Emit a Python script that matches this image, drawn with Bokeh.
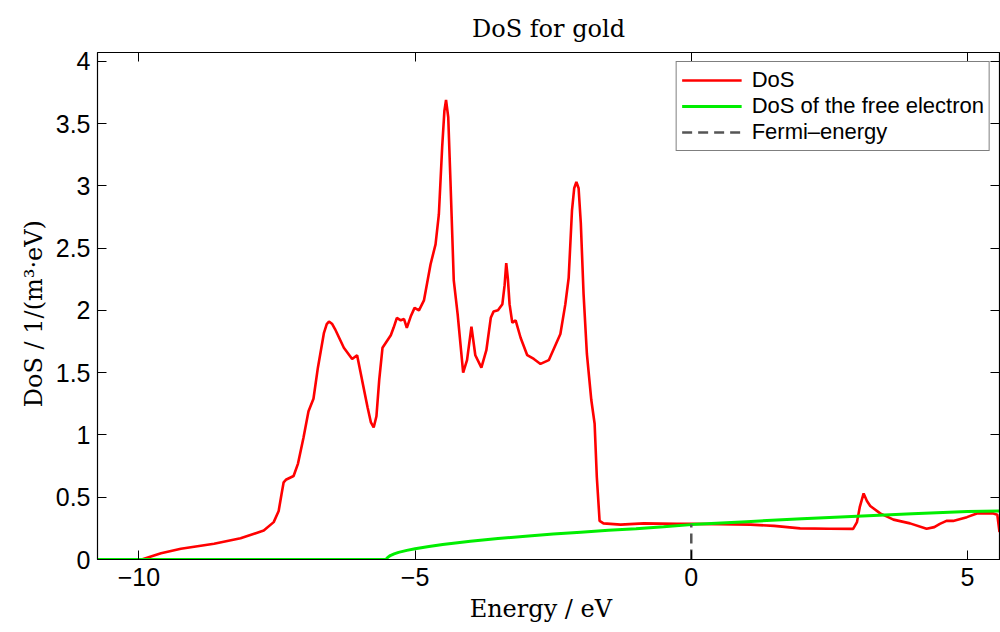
from bokeh.plotting import figure
from bokeh.models import (Range1d, FixedTicker, LinearAxis, CustomJSTickFormatter,
                          Legend, LegendItem)
from bokeh.embed import file_html
from bokeh.resources import INLINE

# --- data ---
energy_dos = [-9.95, -9.6, -9.24, -8.64, -8.16, -7.74, -7.56, -7.47, -7.42, -7.38,
              -7.34, -7.20, -7.12, -7.02, -6.93, -6.84, -6.76, -6.65, -6.60, -6.56,
              -6.50, -6.45, -6.29, -6.14, -6.05, -5.96, -5.86, -5.80, -5.75, -5.70,
              -5.65, -5.59, -5.44, -5.39, -5.33, -5.26, -5.20, -5.15, -5.08, -5.01,
              -4.93, -4.84, -4.72, -4.63, -4.57, -4.51, -4.47, -4.44, -4.40, -4.36,
              -4.30, -4.23, -4.13, -4.06, -3.98, -3.91, -3.80, -3.71, -3.63, -3.58,
              -3.50, -3.42, -3.38, -3.35, -3.32, -3.29, -3.24, -3.18, -3.09, -2.97,
              -2.85, -2.73, -2.58, -2.46, -2.37, -2.28, -2.22, -2.16, -2.12, -2.08,
              -2.04, -2.00, -1.95, -1.89, -1.81, -1.75, -1.71, -1.66, -1.59, -1.28,
              -0.86, -0.26, 0.0, 0.5, 1.07, 1.5, 1.97, 2.5, 2.93, 3.0,
              3.05, 3.12, 3.18, 3.24, 3.42, 3.66, 3.96, 4.26, 4.40, 4.50,
              4.62, 4.74, 4.99, 5.17, 5.47, 5.54, 5.58]
dos = [0.0, 0.05, 0.086, 0.126, 0.17, 0.233, 0.30, 0.39, 0.52, 0.62,
       0.64, 0.67, 0.77, 0.98, 1.19, 1.29, 1.54, 1.82, 1.89, 1.91,
       1.89, 1.85, 1.70, 1.61, 1.64, 1.44, 1.22, 1.10, 1.06, 1.15,
       1.44, 1.70, 1.80, 1.86, 1.94, 1.92, 1.93, 1.86, 1.95, 2.02,
       2.00, 2.08, 2.37, 2.53, 2.77, 3.31, 3.60, 3.69, 3.55, 3.04,
       2.24, 1.97, 1.50, 1.60, 1.87, 1.64, 1.54, 1.68, 1.94, 1.99,
       2.00, 2.05, 2.20, 2.38, 2.25, 2.05, 1.90, 1.92, 1.78, 1.64,
       1.61, 1.57, 1.60, 1.72, 1.81, 2.05, 2.26, 2.80, 2.98, 3.03,
       2.98, 2.70, 2.13, 1.65, 1.28, 1.09, 0.66, 0.31, 0.29, 0.28,
       0.29, 0.286, 0.286, 0.284, 0.28, 0.27, 0.25, 0.247, 0.246, 0.30,
       0.42, 0.53, 0.47, 0.43, 0.37, 0.32, 0.29, 0.246, 0.26, 0.286,
       0.31, 0.31, 0.34, 0.37, 0.37, 0.36, 0.22]

energy_free = [-10.75, -5.53, -5.50, -5.45, -5.38, -5.30, -5.15, -5.00, -4.75, -4.50,
               -4.00, -3.50, -3.00, -2.50, -2.00, -1.50, -1.00, -0.50, 0.0, 1.0,
               2.0, 3.0, 4.0, 5.0, 5.58]
dos_free = [0.0, 0.0, 0.015, 0.032, 0.045, 0.057, 0.073, 0.087, 0.105, 0.121,
            0.147, 0.168, 0.187, 0.204, 0.219, 0.234, 0.247, 0.262, 0.280, 0.304,
            0.327, 0.348, 0.367, 0.386, 0.390]

fermi_x = [0.0, 0.0]
fermi_y = [0.0, 0.28]

x_ticks = [-10, -5, 0, 5]
y_ticks = [0, 0.5, 1, 1.5, 2, 2.5, 3, 3.5, 4]

FMT = CustomJSTickFormatter(code="return (tick < 0 ? '\\u2212' + Math.abs(tick) : String(tick));")

p = figure(width=1000, height=632, output_backend="svg", toolbar_location=None,
           x_range=Range1d(-10.75, 5.58), y_range=Range1d(0, 4.07),
           min_border_left=97, min_border_right=1, min_border_top=52, min_border_bottom=73,
           title="DoS for gold")
p.grid.visible = False
p.outline_line_color = "black"
p.background_fill_color = "white"
p.border_fill_color = "white"

p.title.align = "center"
p.title.text_font = "DejaVu Serif"
p.title.text_font_size = "24px"
p.title.text_font_style = "normal"
p.title.text_color = "black"
p.title.standoff = 20

def style_axis(ax, labels=True):
    ax.major_tick_in = 9
    ax.major_tick_out = 0
    ax.minor_tick_in = 0
    ax.minor_tick_out = 0
    ax.axis_line_color = "black"
    ax.major_tick_line_color = "black"
    ax.axis_line_width = 1.2
    if labels:
        ax.major_label_text_font = "Liberation Sans"
        ax.major_label_text_font_size = "25px"
        ax.major_label_text_color = "black"
        ax.axis_label_text_font = "DejaVu Serif"
        ax.axis_label_text_font_size = "24px"
        ax.axis_label_text_font_style = "normal"
        ax.axis_label_text_color = "black"
    else:
        ax.major_label_text_color = None
        ax.major_label_text_alpha = 0
        ax.major_label_standoff = 0

p.xaxis.ticker = FixedTicker(ticks=x_ticks)
p.yaxis.ticker = FixedTicker(ticks=y_ticks)
p.xaxis.formatter = FMT
p.yaxis.formatter = FMT
p.xaxis.axis_label = "Energy  /  eV"
p.yaxis.axis_label = "DoS  /  1/(m³·eV)"
style_axis(p.xaxis[0])
style_axis(p.yaxis[0])
p.xaxis.major_label_standoff = 8
p.xaxis.axis_label_standoff = 6
p.yaxis.major_label_standoff = 7

top = LinearAxis(ticker=FixedTicker(ticks=x_ticks),
                 formatter=CustomJSTickFormatter(code="return '';"))
right = LinearAxis(ticker=FixedTicker(ticks=y_ticks),
                   formatter=CustomJSTickFormatter(code="return '';"))
style_axis(top, labels=False)
style_axis(right, labels=False)
p.add_layout(top, "above")
p.add_layout(right, "right")

r_dos = p.line(energy_dos, dos, line_color="#ff0000", line_width=2.6)
r_free = p.line(energy_free, dos_free, line_color="#00ee00", line_width=3)
r_fermi = p.line(fermi_x, fermi_y, line_color="#555555", line_width=2.5, line_dash="10 6")

legend = Legend(items=[LegendItem(label="DoS", renderers=[r_dos]),
                       LegendItem(label="DoS of the free electron", renderers=[r_free]),
                       LegendItem(label="Fermi\u2013energy", renderers=[r_fermi])],
                location="top_right")
legend.margin = 9
legend.padding = 5
legend.spacing = 0
legend.glyph_height = 20
legend.glyph_width = 60
legend.label_height = 20
legend.label_standoff = 10
legend.label_text_font = "Liberation Sans"
legend.label_text_font_size = "22px"
legend.label_text_line_height = 1.0
legend.label_text_color = "black"
legend.border_line_color = "black"
legend.border_line_width = 1
legend.background_fill_alpha = 1
p.add_layout(legend, "center")

open("out.html", "w").write(file_html(p, INLINE))
